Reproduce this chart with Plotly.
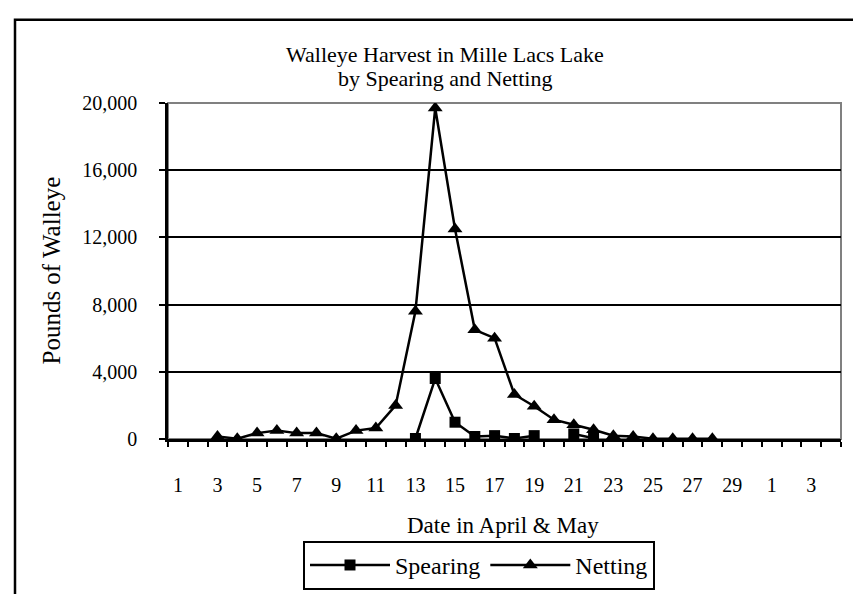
import plotly.graph_objects as go

# Categories: April 1-30, May 1-4
dates = [f"Apr {d}" for d in range(1, 31)] + [f"May {d}" for d in range(1, 5)]
tick_labels = ["1", "3", "5", "7", "9", "11", "13", "15", "17", "19", "21", "23",
               "25", "27", "29", "1", "3"]

# Pounds of walleye (None = no data)
spearing = [None] * 12 + [30, 3600, 1000, 150, 200, 30, 200, None, 300, 50] + [None] * 12
netting = [None, None, 150, 20, 350, 500, 350, 350, 20, 500, 650, 2000,
           7600, 19700, 12500, 6500, 6000, 2650, 1950, 1150, 850, 550, 200, 150,
           20, 20, 20, 20] + [None] * 6

title_lines = ["Walleye Harvest in Mille Lacs Lake", "by Spearing and Netting"]
x_title = "Date in April & May"
y_title = "Pounds of Walleye"

xpos = list(range(1, len(dates) + 1))
tick_pos = xpos[0::2]

FONT = "Liberation Serif, Times New Roman, serif"

fig = go.Figure()
fig.add_trace(go.Scatter(
    x=xpos, y=spearing, name="Spearing", mode="lines+markers",
    line=dict(color="black", width=2.5),
    marker=dict(symbol="square", size=11, color="black"),
    connectgaps=False,
))
fig.add_trace(go.Scatter(
    x=xpos, y=netting, name="Netting", mode="lines+markers",
    line=dict(color="black", width=2.5),
    marker=dict(symbol="triangle-up", size=13, color="black"),
))

L, R, T, B = 160, 833, 95, 438
W, H = 861, 594
PW, PH = R - L, B - T


def px(x):
    return (x - L) / PW


def py(y):
    return (B - y) / PH


annotations = [
    dict(text=title_lines[0], xref="paper", yref="paper", x=px(437), y=py(45),
         xanchor="center", yanchor="middle", showarrow=False,
         font=dict(family=FONT, size=22, color="black")),
    dict(text=title_lines[1], xref="paper", yref="paper", x=px(437), y=py(70),
         xanchor="center", yanchor="middle", showarrow=False,
         font=dict(family=FONT, size=22, color="black")),
    dict(text=x_title, xref="paper", yref="paper", x=px(495), y=py(526),
         xanchor="center", yanchor="middle", showarrow=False,
         font=dict(family=FONT, size=23, color="black")),
    dict(text=y_title, xref="paper", yref="paper", x=px(44), y=py(266),
         xanchor="center", yanchor="middle", showarrow=False, textangle=-90,
         font=dict(family=FONT, size=25, color="black")),
]

fig.update_layout(
    width=W, height=H,
    margin=dict(l=L, r=W - R, t=T, b=H - B),
    paper_bgcolor="white", plot_bgcolor="white",
    font=dict(family=FONT, color="black", size=20),
    showlegend=True,
    legend=dict(orientation="h", x=px(471), xanchor="center", y=py(542), yanchor="top",
                bordercolor="black", borderwidth=2, bgcolor="white",
                font=dict(family=FONT, size=24, color="black"),
                itemwidth=80, tracegroupgap=0),
    xaxis=dict(
        range=[0.5, len(dates) + 0.5],
        tickmode="array", tickvals=tick_pos, ticktext=tick_labels,
        ticks="", showgrid=False, zeroline=False,
        showline=True, linecolor="black", linewidth=2.5,
        ticklabelstandoff=26,
        tickfont=dict(family=FONT, size=20, color="black"),
        minor=dict(tickmode="array", tickvals=[p - 0.5 for p in xpos] + [len(dates) + 0.5],
                   ticks="outside", ticklen=5, tickwidth=2, tickcolor="black", showgrid=False),
    ),
    yaxis=dict(
        range=[0, 20000], tickmode="array",
        tickvals=[0, 4000, 8000, 12000, 16000, 20000],
        ticktext=["0", "4,000", "8,000", "12,000", "16,000", "20,000"],
        ticks="outside", ticklen=6, tickwidth=2, tickcolor="black",
        showgrid=True, gridcolor="black", gridwidth=2,
        zeroline=False, showline=True, linecolor="black", linewidth=2.5,
        ticklabelstandoff=18,
        tickfont=dict(family=FONT, size=20, color="black"),
    ),
    annotations=annotations,
    shapes=[
        dict(type="rect", xref="paper", yref="paper", x0=0, x1=1, y0=0, y1=1,
             line=dict(color="#808080", width=2), layer="between"),
        dict(type="rect", xref="paper", yref="paper",
             x0=px(7), x1=px(W + 20), y0=py(H + 20), y1=py(10),
             line=dict(color="black", width=2.5), layer="above"),
    ],
)

fig.write_html("out.html")
